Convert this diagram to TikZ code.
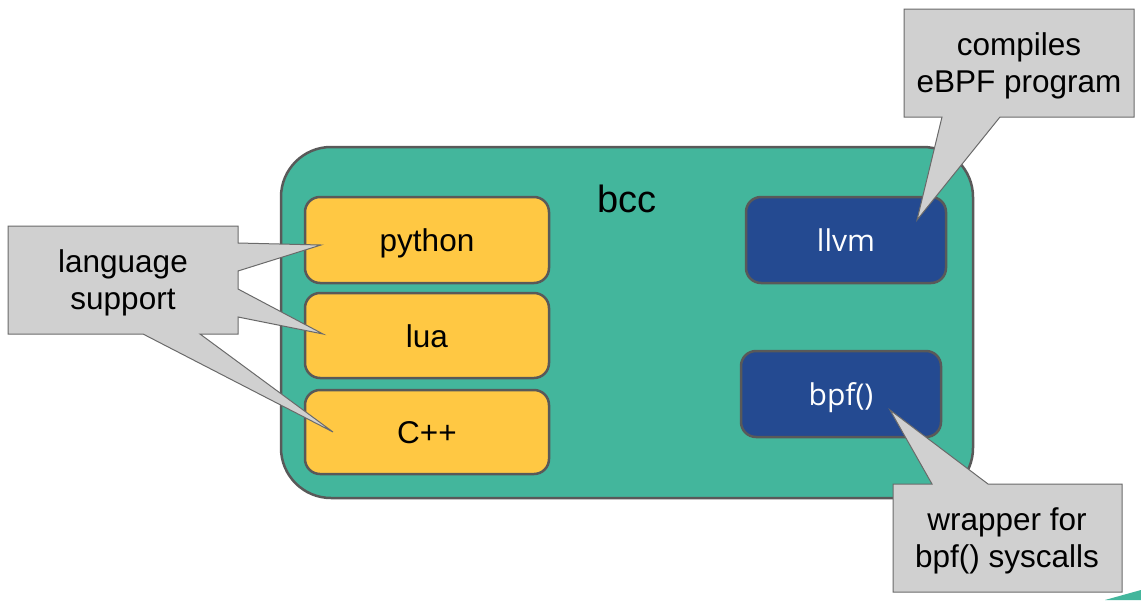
\documentclass[tikz,border=0pt]{standalone}
\usepackage{fontspec}
\setmainfont{Liberation Sans}
\newfontfamily\osans{Open Sans}
\definecolor{bccgreen}{HTML}{43B69C}
\definecolor{langyellow}{HTML}{FFC843}
\definecolor{toolblue}{HTML}{244A91}
\definecolor{calloutgray}{HTML}{D0D0D0}
\definecolor{edgegray}{HTML}{595959}
\definecolor{calloutedge}{HTML}{6A6A6A}
\begin{document}
\begin{tikzpicture}[x=1pt,y=-1pt,
  outerbox/.style={draw=edgegray,line width=2.5pt,fill=bccgreen,rounded corners=50pt,inner sep=0pt},
  langbox/.style={draw=edgegray,line width=2.5pt,fill=langyellow,rounded corners=15pt,minimum width=244pt,inner sep=0pt,text height=25.5pt,text depth=2.5pt,font=\fontsize{31.5}{37}\selectfont},
  toolbox/.style={draw=edgegray,line width=2.5pt,fill=toolblue,rounded corners=15pt,minimum width=200pt,minimum height=86pt,inner sep=0pt,text height=25.5pt,text depth=2.5pt,text=white,font=\osans\fontsize{30}{36}\selectfont},
  callout/.style={draw=calloutedge,line width=1pt,fill=calloutgray,line join=miter},
  callouttext/.style={align=center,inner sep=0pt,font=\fontsize{31.5}{37}\selectfont}]
\useasboundingbox (0,0) rectangle (1141,600);
% corner sliver
\fill[bccgreen] (1105,600) -- (1141,590) -- (1141,600) -- cycle;
% main bcc box
\node[outerbox,minimum width=692pt,minimum height=351pt] (bcc) at (627,322.5) {};
\node[font=\fontsize{38}{44}\selectfont,inner sep=0pt] (bcclabel) at (627,199) {bcc};
% language boxes
\node[langbox,minimum height=86pt] (python) at (427,240) {python};
\node[langbox,minimum height=85pt] (lua) at (427,335.5) {lua};
\node[langbox,minimum height=84pt] (cpp) at (427,432) {C++};
% tool boxes
\node[toolbox] (llvm) at (846,240) {llvm};
\node[toolbox] (bpf) at (841,394) {bpf()};
% callout tips
\coordinate (t1) at (321,245);
\coordinate (t2) at (323,334);
\coordinate (t3) at (333,432);
\coordinate (t4) at (917,220);
\coordinate (t5) at (890,410);
% language support callout
\draw[callout] (8,226) -- (238,226) -- (238,243) -- (t1) -- (238,271) -- (238,289) -- (t2) -- (238,317)
  -- (238,334) -- (200,334) -- (t3) -- (143,334) -- (8,334) -- cycle;
\node[callouttext] (lang) at (123,283) {language\\support};
% compiles callout
\draw[callout] (904,9) -- (1134,9) -- (1134,117) -- (1000,117) -- (t4) -- (942,117) -- (904,117) -- cycle;
\node[callouttext] (comp) at (1019,66) {compiles\\eBPF program};
% wrapper callout
\draw[callout] (893,484) -- (932,484) -- (t5) -- (988,484) -- (1122,484) -- (1122,592) -- (893,592) -- cycle;
\node[callouttext] (wrap) at (1007,541) {wrapper for\\bpf() syscalls};
\end{tikzpicture}
\end{document}
